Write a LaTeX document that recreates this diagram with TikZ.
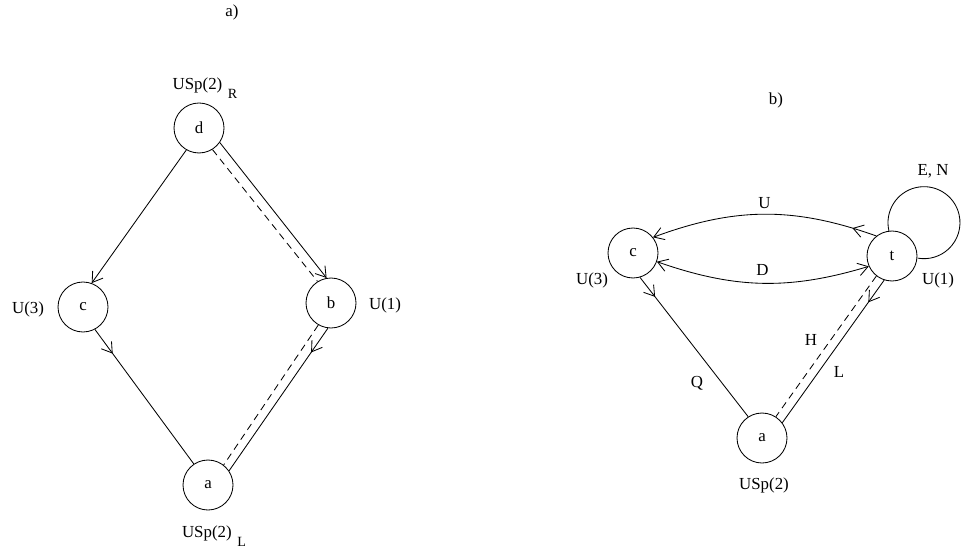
\documentclass[tikz,border=0pt]{standalone}
\usepackage{fontspec}
\setmainfont{Liberation Serif}
\usetikzlibrary{arrows.meta,decorations.markings}

\begin{document}
\begin{tikzpicture}[
        font=\fontsize{12}{14}\selectfont,
        line width=0.6pt,
        >={Straight Barb[length=7pt,width=9pt]},
        gauge/.style={circle, draw, minimum size=1.25cm, inner sep=0pt},
        dashedline/.style={dash pattern=on 5pt off 3.5pt},
        midarrow/.style={postaction={decorate}, decoration={markings, mark=at position #1 with {\arrow{>}}}}
    ]
        \useasboundingbox (0,0) rectangle (24.025,13.85);

        % Quiver a)
        \node (tita) at (5.8,13.55) {a)};
        \node[gauge] (d) at (4.975,10.65) {d};
        \node[gauge] (c) at (2.075,6.175) {c};
        \node[gauge] (b) at (8.275,6.275) {b};
        \node[gauge] (a) at (5.2,1.725) {a};
        \node[anchor=base] (grpd) at (5.125,11.6) {USp(2)\hspace{4pt}\raisebox{-6pt}{\fontsize{10}{11}\selectfont R}};
        \node (grpc) at (0.7,6.125) {U(3)};
        \node (grpb) at (9.625,6.225) {U(1)};
        \node[anchor=base] (grpa) at (5.35,0.425) {USp(2)\hspace{4pt}\raisebox{-7pt}{\fontsize{10}{11}\selectfont L}};

        \draw[->] (d.-35) -- (b.100);
        \draw[dashedline] (d.-58) -- (b.122);
        \draw[->] (d.-120) -- (c.70);
        \draw[midarrow=0.18] (c.-62) -- (a.124);
        \draw[midarrow=0.17] (b.-97) -- (a.34);
        \draw[dashedline] (b.-120) -- (a.52);

        % Quiver b)
        \node (titb) at (19.4,11.35) {b)};
        \node[gauge] (c2) at (15.825,7.525) {c};
        \node[gauge] (t) at (22.3,7.45) {t};
        \node[gauge] (a2) at (19.05,2.9) {a};
        \node (grpc2) at (14.8,6.85) {U(3)};
        \node (grpt) at (23.45,6.85) {U(1)};
        \node (grpa2) at (19.1,1.725) {USp(2)};

        \draw[->, midarrow=0.11] (t.128) to[bend right=20] node[above] (fU) {U} (c2.38);
        \draw[<->] (c2.-20) to[bend right=18] node[above=2pt] (fD) {D} (t.-156);
        \draw (t.97) arc[start angle=193, end angle=-100, radius=0.9cm];
        \node (fEN) at (23.325,9.575) {E, N};
        \draw[midarrow=0.14] (c2.-74) -- (a2.123);
        \draw[midarrow=0.155] (t.-108) -- (a2.37);
        \draw[dashedline] (t.-128) -- (a2.57);

        % Field labels
        \node (fQ) at (17.425,4.275) {Q};
        \node (fH) at (20.275,5.35) {H};
        \node (fL) at (20.975,4.55) {L};
    \end{tikzpicture}
\end{document}
